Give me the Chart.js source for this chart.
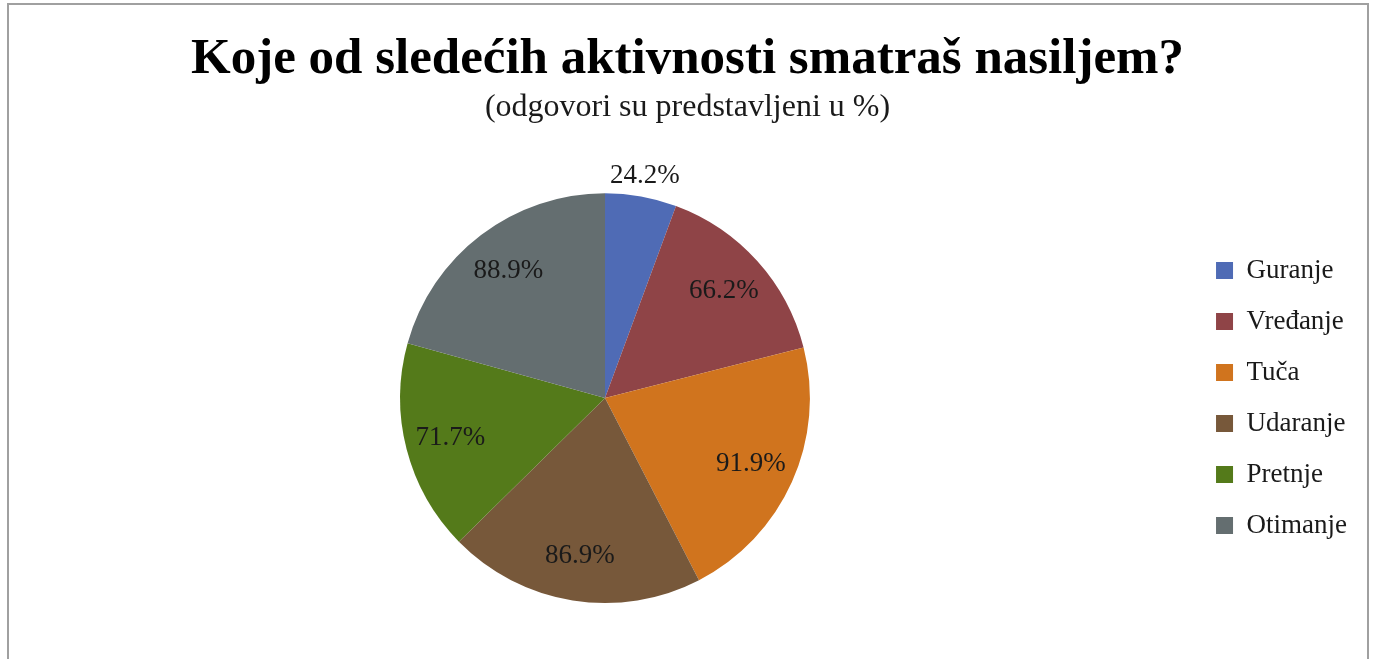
<!DOCTYPE html>
<html>
<head>
<meta charset="utf-8">
<script src="https://cdn.jsdelivr.net/npm/chart.js@4/dist/chart.umd.min.js"></script>
<style>
  html, body { margin: 0; padding: 0; background: #fff; overflow: hidden; }
  #frame {
    position: absolute; left: 7px; top: 3px; width: 1362px; height: 700px;
    border: 2px solid #a0a0a0; box-sizing: border-box;
  }
  #chart { position: absolute; left: 0; top: 0; }
</style>
</head>
<body>
<div id="frame"></div>
<canvas id="chart" width="1380" height="659"></canvas>
<script>
const titleText = "Koje od sledećih aktivnosti smatraš nasiljem?";
const subtitleText = "(odgovori su predstavljeni u %)";
const categories = ["Guranje", "Vređanje", "Tuča", "Udaranje", "Pretnje", "Otimanje"];
const percentValues = [24.2, 66.2, 91.9, 86.9, 71.7, 88.9];
const sliceColors = ["#4f6bb5", "#8f4447", "#d0741e", "#77583a", "#547a1a", "#646e70"];

const serif = "'Liberation Serif', 'Times New Roman', serif";

// natpisi sa procentima na kriskama
const sliceLabels = {
  id: "sliceLabels",
  afterDatasetsDraw(chart) {
    const ctx = chart.ctx;
    const meta = chart.getDatasetMeta(0);
    ctx.save();
    ctx.font = "27px " + serif;
    ctx.fillStyle = "#1a1a1a";
    ctx.textAlign = "center";
    ctx.textBaseline = "middle";
    meta.data.forEach((arc, i) => {
      const p = arc.getProps(["x", "y", "startAngle", "endAngle", "outerRadius"], true);
      const mid = (p.startAngle + p.endAngle) / 2;
      // mala kriska - natpis ide van kruga
      const r = (p.endAngle - p.startAngle) < 0.6 ? p.outerRadius + 21 : p.outerRadius * 0.78;
      const tx = p.x + Math.cos(mid) * r;
      const ty = p.y + Math.sin(mid) * r;
      ctx.fillText(percentValues[i].toFixed(1) + "%", tx, ty);
    });
    ctx.restore();
  }
};

new Chart(document.getElementById("chart"), {
  type: "pie",
  data: {
    labels: categories,
    datasets: [{
      data: percentValues,
      backgroundColor: sliceColors,
      borderWidth: 0,
      hoverOffset: 0
    }]
  },
  options: {
    responsive: false,
    animation: false,
    events: [],
    layout: { padding: { left: 18, right: 23, top: 0, bottom: 56 } },
    plugins: {
      title: {
        display: true,
        text: titleText,
        color: "#000",
        font: { family: serif, size: 51, weight: "bold", lineHeight: 1.2 },
        padding: { top: 29, bottom: 0 }
      },
      subtitle: {
        display: true,
        text: subtitleText,
        color: "#1a1a1a",
        font: { family: serif, size: 32, lineHeight: 1 },
        padding: { top: 1, bottom: 70 }
      },
      legend: {
        position: "right",
        fullSize: false,
        labels: {
          boxWidth: 17,
          boxHeight: 17,
          padding: 24,
          color: "#1a1a1a",
          font: { family: serif, size: 27 }
        }
      },
      tooltip: { enabled: false }
    }
  },
  plugins: [sliceLabels]
});
</script>
</body>
</html>
